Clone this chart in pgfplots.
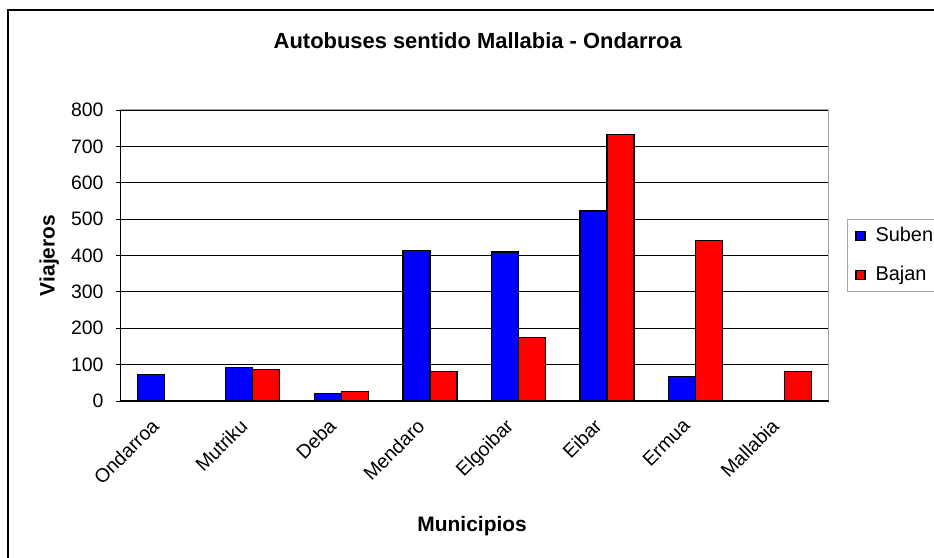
\documentclass[border=0pt]{standalone}
\usepackage{pgfplots}
\pgfplotsset{compat=1.18}
\usepackage{fontspec}
\setmainfont{Liberation Sans}
\definecolor{sblue}{RGB}{0,0,255}
\definecolor{sred}{RGB}{255,0,0}
\begin{document}
\begin{tikzpicture}[x=1bp,y=1bp]
\useasboundingbox (0,0) rectangle (934,558);
\draw[line width=1.3bp] (8,-20) -- (8,548) -- (960,548);
\begin{axis}[
  at={(120bp,157bp)}, anchor=south west,
  scale only axis, width=708.5bp, height=291bp,
  xmin=-0.5, xmax=7.5, ymin=0, ymax=800,
  ybar=0pt, bar width=27bp,
  ytick={0,100,...,800},
  xtick={0,...,7},
  xticklabels={Ondarroa,Mutriku,Deba,Mendaro,Elgoibar,Eibar,Ermua,Mallabia},
  major x tick style={draw=none},
  extra x ticks={-0.5,0.5,...,7.5},
  extra x tick labels={},
  extra x tick style={grid=none, major tick length=6bp, tick style={draw=black, line width=0.8bp}},
  tick align=outside, tick pos=left,
  major tick length=4bp,
  tick style={black, line width=0.8bp},
  ymajorgrids, grid style={black, line width=0.8bp},
  axis line style={draw=gray!70, line width=1bp},
  /pgf/number format/assume math mode=true,
  ticklabel style={font=\fontsize{19.5}{23}\selectfont},
  yticklabel style={xshift=-9bp},
  xticklabel style={rotate=45, anchor=north east, xshift=-15.4bp, yshift=4.6bp},
  title={\textbf{Autobuses sentido Mallabia - Ondarroa}},
  title style={font=\fontsize{22}{26}\selectfont, at={(axis description cs:0.505,1.216)}, anchor=center, yshift=0pt},
  xlabel={\textbf{Municipios}},
  xlabel style={font=\fontsize{21}{25}\selectfont, at={(axis description cs:0.497,-0.429)}, anchor=center},
  ylabel={\textbf{Viajeros}},
  ylabel style={font=\fontsize{21}{25}\selectfont, at={(axis description cs:-0.1,0.5)}, anchor=center, rotate=0},
  legend style={at={(axis description cs:1.026,0.625)}, anchor=north west,
    draw=gray!70, line width=0.8bp, font=\fontsize{20}{24}\selectfont,
    inner xsep=8bp, inner ysep=7bp, row sep=20bp, column sep=10bp,
    nodes={inner sep=0pt, text height=14.5bp, text depth=4.5bp},
    cells={anchor=west}},
  legend image code/.code={\draw[#1, line width=1.2bp, draw=black] (0bp,-4.5bp) rectangle (9bp,4.5bp);},
]
\addplot[fill=sblue, draw=black, line width=1.3bp] coordinates {(0,72) (1,93) (2,20) (3,414) (4,410) (5,522) (6,67)};
\addplot[fill=sred, draw=black, line width=1.3bp] coordinates {(1,87) (2,26) (3,82) (4,174) (5,733) (6,441) (7,82)};
\legend{Suben\hspace{10bp},Bajan}
\draw[black, line width=1bp] (rel axis cs:0,0) -- (rel axis cs:0,1);
\draw[black, line width=1bp] (rel axis cs:0,0) -- (rel axis cs:1,0);
\end{axis}
\end{tikzpicture}
\end{document}
